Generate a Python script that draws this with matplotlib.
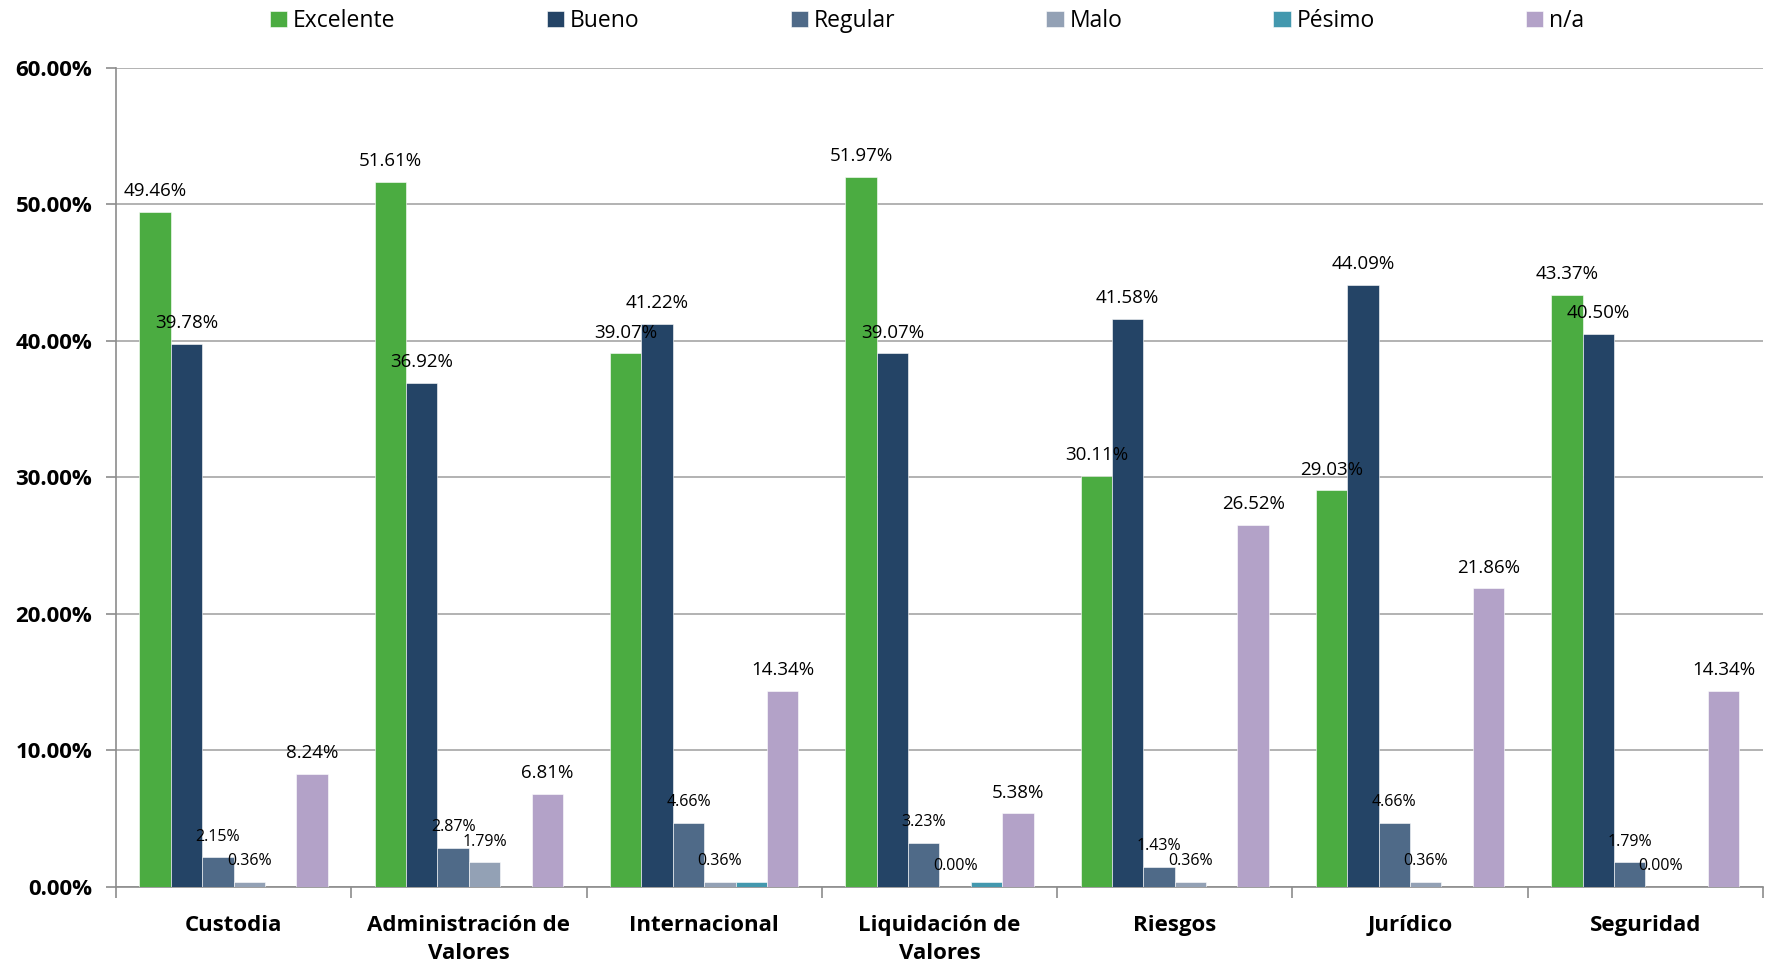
import numpy as np
import matplotlib.pyplot as plt
from matplotlib.ticker import FuncFormatter, FixedLocator

plt.rcParams['font.family'] = ['Open Sans', 'DejaVu Sans']

areas = ['Custodia', 'Administración de\nValores', 'Internacional',
         'Liquidación de\nValores', 'Riesgos', 'Jurídico', 'Seguridad']
series = ['Excelente', 'Bueno', 'Regular', 'Malo', 'Pésimo', 'n/a']

excelente = [49.46, 51.61, 39.07, 51.97, 30.11, 29.03, 43.37]
bueno = [39.78, 36.92, 41.22, 39.07, 41.58, 44.09, 40.50]
regular = [2.15, 2.87, 4.66, 3.23, 1.43, 4.66, 1.79]
malo = [0.36, 1.79, 0.36, 0.00, 0.36, 0.36, 0.00]
pesimo = [0.00, 0.00, 0.36, 0.36, 0.00, 0.00, 0.00]
na = [8.24, 6.81, 14.34, 5.38, 26.52, 21.86, 14.34]

values = [excelente, bueno, regular, malo, pesimo, na]
colors = ['#4BAC41', '#244466', '#4F6A88', '#93A1B5', '#4398AE', '#B3A2C8']
# Pésimo bars carry no value label
label_size = [13.5, 13.5, 11.5, 11.5, None, 13.5]

fig = plt.figure(figsize=(17.7, 9.66), dpi=100)
ax = fig.add_axes([0.0655, 0.082, 0.9305, 0.848])

x = np.arange(len(areas))
w = 0.8 / len(series)
handles = []
for i, (name, vals) in enumerate(zip(series, values)):
    pos = x - 0.4 + w * (i + 0.5)
    bars = ax.bar(pos, vals, w, color=colors[i], label=name, zorder=3,
                  edgecolor='white', linewidth=0.4)
    handles.append(bars)
    if label_size[i] is None:
        continue
    for px, v in zip(pos, vals):
        ax.annotate(f'{v:.2f}%', (px, v), xytext=(0, 15), textcoords='offset points',
                    ha='center', va='center', fontsize=label_size[i], color='black',
                    zorder=4)

ax.set_xlim(-0.5, len(areas) - 0.5)
ax.set_ylim(0, 60)
ax.set_yticks(np.arange(0, 61, 10))
ax.yaxis.set_major_formatter(FuncFormatter(lambda v, _: f'{v:.2f}%'))
ax.grid(axis='y', color='#A6A6A6', linewidth=1.2, zorder=0)
ax.set_axisbelow(True)

ax.set_xticks(x)
ax.set_xticklabels(areas, fontsize=16, fontweight='bold', linespacing=1.45)
ax.tick_params(axis='x', length=0, pad=20)
ax.xaxis.set_minor_locator(FixedLocator(np.arange(-0.5, len(areas), 1.0)))
ax.tick_params(axis='x', which='minor', length=8, color='#8C8C8C', width=1.2)
ax.tick_params(axis='y', length=7, color='#8C8C8C', width=1.2, labelsize=16, pad=10)
for lab in ax.get_yticklabels():
    lab.set_fontweight('bold')

for s in ['top', 'right']:
    ax.spines[s].set_visible(False)
for s in ['left', 'bottom']:
    ax.spines[s].set_color('#8C8C8C')
    ax.spines[s].set_linewidth(1.2)

fig.legend(handles=handles, labels=series, loc='upper left', ncol=6,
           bbox_to_anchor=(0.141, 1.012), frameon=False, fontsize=16.5,
           handlelength=0.75, handleheight=0.75, handletextpad=0.25,
           columnspacing=6.6)

fig.savefig('out.png', dpi=100)
